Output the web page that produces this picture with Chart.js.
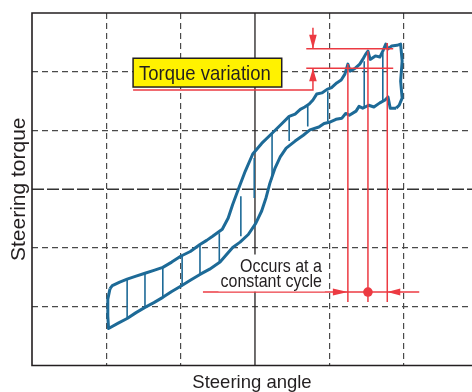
<!DOCTYPE html>
<html>
<head>
<meta charset="utf-8">
<script src="https://cdn.jsdelivr.net/npm/chart.js@4/dist/chart.umd.min.js"></script>
<style>
html,body{margin:0;padding:0;background:#fff;}
canvas{display:block;}
</style>
</head>
<body>
<canvas id="c" width="472" height="392"></canvas>
<script>
// ---- data (grid units: steering angle / steering torque) ----
const upperAngle = [-1.95,-1.92,-1.82,-1.72,-1.60,-1.48,-1.36,-1.24,-1.12,-1.00,-0.87,-0.74,-0.65,-0.57,-0.44,-0.36,-0.30,-0.23,-0.13,-0.03,0.09,0.22,0.34,0.46,0.54,0.61,0.67,0.73,0.78,0.83,0.90,0.97,1.03,1.10,1.16,1.21,1.25,1.28,1.35,1.41,1.45,1.49,1.52,1.55,1.62,1.68,1.72,1.76,1.79,1.84,1.91,1.96,1.98,1.96,1.98,1.94,1.90];
const upperTorque = [-1.69,-1.64,-1.58,-1.53,-1.48,-1.43,-1.38,-1.33,-1.24,-1.14,-1.06,-0.94,-0.87,-0.80,-0.68,-0.49,-0.26,-0.02,0.31,0.60,0.78,0.94,1.09,1.24,1.28,1.36,1.40,1.45,1.52,1.62,1.64,1.70,1.73,1.81,1.86,1.96,2.13,2.01,2.06,2.13,2.21,2.30,2.35,2.21,2.27,2.25,2.35,2.47,2.39,2.44,2.45,2.47,2.18,1.84,1.55,1.43,1.38];
const lowerAngle = [1.90,1.82,1.79,1.75,1.68,1.60,1.53,1.45,1.40,1.36,1.27,1.22,1.17,1.09,1.00,0.93,0.86,0.74,0.65,0.54,0.42,0.34,0.27,0.20,0.15,0.09,0.01,-0.09,-0.20,-0.30,-0.47,-0.61,-0.74,-0.87,-1.00,-1.12,-1.24,-1.36,-1.48,-1.60,-1.72,-1.84,-1.97,-1.98,-1.98,-1.95];
const lowerTorque = [1.38,1.38,1.57,1.52,1.47,1.40,1.43,1.38,1.41,1.33,1.26,1.29,1.21,1.19,1.14,1.12,1.06,1.01,0.92,0.82,0.70,0.55,0.36,0.10,-0.14,-0.37,-0.58,-0.77,-0.90,-0.99,-1.24,-1.36,-1.45,-1.55,-1.65,-1.74,-1.84,-1.93,-2.01,-2.10,-2.20,-2.28,-2.37,-2.16,-1.87,-1.69];
const stepAngle = [-1.72,-1.48,-1.24,-0.98,-0.74,-0.48,-0.19,-0.01,0.23,0.46,0.71,0.98,1.47,1.72];
const stepTop = [-1.53,-1.43,-1.33,-1.12,-0.94,-0.75,-0.12,0.53,0.94,1.24,1.45,1.67,2.18,2.32];
const stepBottom = [-2.20,-2.01,-1.84,-1.65,-1.45,-1.23,-0.80,-0.15,0.17,0.82,1.07,1.16,1.38,1.50];

// annotation anchors (grid units)
const peakAngle = [1.25, 1.52, 1.78];
const peakTorque = [2.13, 2.35, 2.49];
const peakBaseTorque = -1.92;
const variationLevels = [2.39, 2.06];
const variationSpan = [0.69, 1.86];
const variationArrowAngle = 0.78;
const cycleLevel = -1.75;
const cycleSpan = [-0.70, 2.21];
const labelText = 'Torque variation';
const cycleText = ['Occurs at a', 'constant cycle'];
const axisTitles = ['Steering angle', 'Steering torque'];

const BLUE = '#1d6a97';
const RED = '#ec3a42';
const INK = '#231f20';
const FONT = "'Liberation Sans', Arial, sans-serif";

function pts(xs, ys){ return xs.map((v,i)=>({x:v, y:ys[i]})); }
const stepPts = [];
stepAngle.forEach((a,i)=>{ stepPts.push({x:a,y:stepTop[i]},{x:a,y:stepBottom[i]},{x:a,y:null}); });

function stretchText(ctx, text, x, y, sy){
  ctx.save(); ctx.translate(x, y); ctx.scale(1, sy); ctx.fillText(text, 0, 0); ctx.restore();
}

const overlay = {
  id: 'overlay',
  beforeDatasetsDraw(chart){
    const {ctx, chartArea:a, scales:{x,y}} = chart;
    ctx.save();
    const x0 = x.getPixelForValue(0), y0 = y.getPixelForValue(0);
    ctx.strokeStyle = '#333'; ctx.lineWidth = 1.3; ctx.setLineDash([12,3]);
    ctx.beginPath(); ctx.moveTo(a.left, y0); ctx.lineTo(a.right, y0); ctx.stroke();
    ctx.setLineDash([]);
    ctx.strokeStyle = INK; ctx.lineWidth = 1.3;
    ctx.beginPath(); ctx.moveTo(x0, a.top); ctx.lineTo(x0, a.bottom); ctx.stroke();
    ctx.lineWidth = 1.6;
    ctx.beginPath();
    ctx.moveTo(a.right+5, a.top); ctx.lineTo(a.left, a.top); ctx.lineTo(a.left, a.bottom); ctx.lineTo(a.right+5, a.bottom);
    ctx.stroke();
    ctx.restore();
  },
  afterDatasetsDraw(chart){
    const {ctx, scales:{x,y}} = chart;
    const X = v=>x.getPixelForValue(v), Y = v=>y.getPixelForValue(v);
    ctx.save();
    ctx.strokeStyle = RED; ctx.fillStyle = RED; ctx.lineWidth = 1.5;
    const line = (x1,y1,x2,y2)=>{ ctx.beginPath(); ctx.moveTo(x1,y1); ctx.lineTo(x2,y2); ctx.stroke(); };
    const tri = (p)=>{ ctx.beginPath(); ctx.moveTo(p[0],p[1]); ctx.lineTo(p[2],p[3]); ctx.lineTo(p[4],p[5]); ctx.closePath(); ctx.fill(); };
    peakAngle.forEach((a,i)=>line(X(a), Y(peakTorque[i]), X(a), Y(peakBaseTorque)));
    variationLevels.forEach(v=>line(X(variationSpan[0]), Y(v), X(variationSpan[1]), Y(v)));
    const ax = X(variationArrowAngle);
    const yTop = Y(variationLevels[0]), yBot = Y(variationLevels[1]);
    line(ax, yTop-21, ax, yTop);
    tri([ax, yTop, ax-3.8, yTop-14, ax+3.8, yTop-14]);
    const boxBottom = Y(1.74), boxTop = Y(2.23), boxLeft = X(-1.64), boxRight = X(0.36);
    const leaderY = boxBottom + 3;
    ctx.beginPath(); ctx.moveTo(ax, yBot); ctx.lineTo(ax, leaderY); ctx.lineTo(boxLeft, leaderY); ctx.stroke();
    tri([ax, yBot, ax-3.8, yBot+13, ax+3.8, yBot+13]);
    const cy = Y(cycleLevel);
    line(X(cycleSpan[0]), cy, X(cycleSpan[1]), cy);
    const l = X(peakAngle[0]), r = X(peakAngle[2]);
    tri([l, cy, l-15, cy-3.5, l-15, cy+3.5]);
    tri([r, cy, r+13, cy-3.5, r+13, cy+3.5]);
    ctx.beginPath(); ctx.arc(X(peakAngle[1]), cy, 4.8, 0, Math.PI*2); ctx.fill();
    // yellow label box
    ctx.fillStyle = '#fff200';
    ctx.fillRect(boxLeft, boxTop, boxRight-boxLeft, boxBottom-boxTop);
    ctx.strokeStyle = INK; ctx.lineWidth = 1.5;
    ctx.strokeRect(boxLeft, boxTop, boxRight-boxLeft, boxBottom-boxTop);
    ctx.fillStyle = INK;
    ctx.font = '18.5px ' + FONT;
    ctx.textBaseline = 'alphabetic'; ctx.textAlign = 'left';
    stretchText(ctx, labelText, boxLeft+6, boxBottom-7.5, 1.13);
    // cycle text with white backing
    ctx.font = '16px ' + FONT;
    ctx.textAlign = 'right';
    const tr = X(0.90);
    const b1 = Y(-1.40), b2 = Y(-1.67);
    ctx.fillStyle = '#fff';
    const w1 = ctx.measureText(cycleText[0]).width, w2 = ctx.measureText(cycleText[1]).width;
    ctx.fillRect(tr-w1-2, b1-17, w1+5, 20);
    ctx.fillRect(tr-w2-2, b2-15, w2+5, 19);
    ctx.fillStyle = INK;
    stretchText(ctx, cycleText[0], tr, b1, 1.2);
    stretchText(ctx, cycleText[1], tr, b2, 1.2);
    ctx.restore();
  }
};

const gridColor = (ctx, skip)=>{
  const v = ctx.tick.value;
  if (!Number.isInteger(v) || skip.includes(v)) return 'rgba(0,0,0,0)';
  return '#4a4a4a';
};

new Chart(document.getElementById('c'), {
  type: 'scatter',
  data: {
    datasets: [
      {data: pts(upperAngle, upperTorque), showLine:true, borderColor:BLUE, borderWidth:3, pointRadius:0, tension:0, borderJoinStyle:'round'},
      {data: pts(lowerAngle, lowerTorque), showLine:true, borderColor:BLUE, borderWidth:3, pointRadius:0, tension:0, borderJoinStyle:'round'},
      {data: stepPts, showLine:true, spanGaps:false, borderColor:BLUE, borderWidth:1.6, pointRadius:0, tension:0}
    ]
  },
  options: {
    responsive:false, animation:false, devicePixelRatio:1,
    layout:{padding:{top:13, right:0, bottom:0, left:0}},
    plugins:{legend:{display:false}, tooltip:{enabled:false}},
    scales:{
      x:{type:'linear', min:-3, max:2.92,
         ticks:{display:false, stepSize:1},
         grid:{drawTicks:false, lineWidth:1.2, color:c=>gridColor(c,[-3,0])},
         border:{display:false, dash:[6,4]},
         title:{display:true, text:axisTitles[0], color:INK, font:{family:FONT, size:18.5, lineHeight:1}, padding:{top:8,bottom:0}}},
      y:{type:'linear', min:-3, max:3,
         ticks:{display:false, stepSize:1},
         grid:{drawTicks:false, lineWidth:1.2, color:c=>gridColor(c,[-3,0,3])},
         border:{display:false, dash:[6,4]},
         title:{display:true, text:axisTitles[1], color:INK, font:{family:FONT, size:21, lineHeight:1}, padding:{top:9,bottom:2}}}
    }
  },
  plugins:[overlay]
});
</script>
</body>
</html>
